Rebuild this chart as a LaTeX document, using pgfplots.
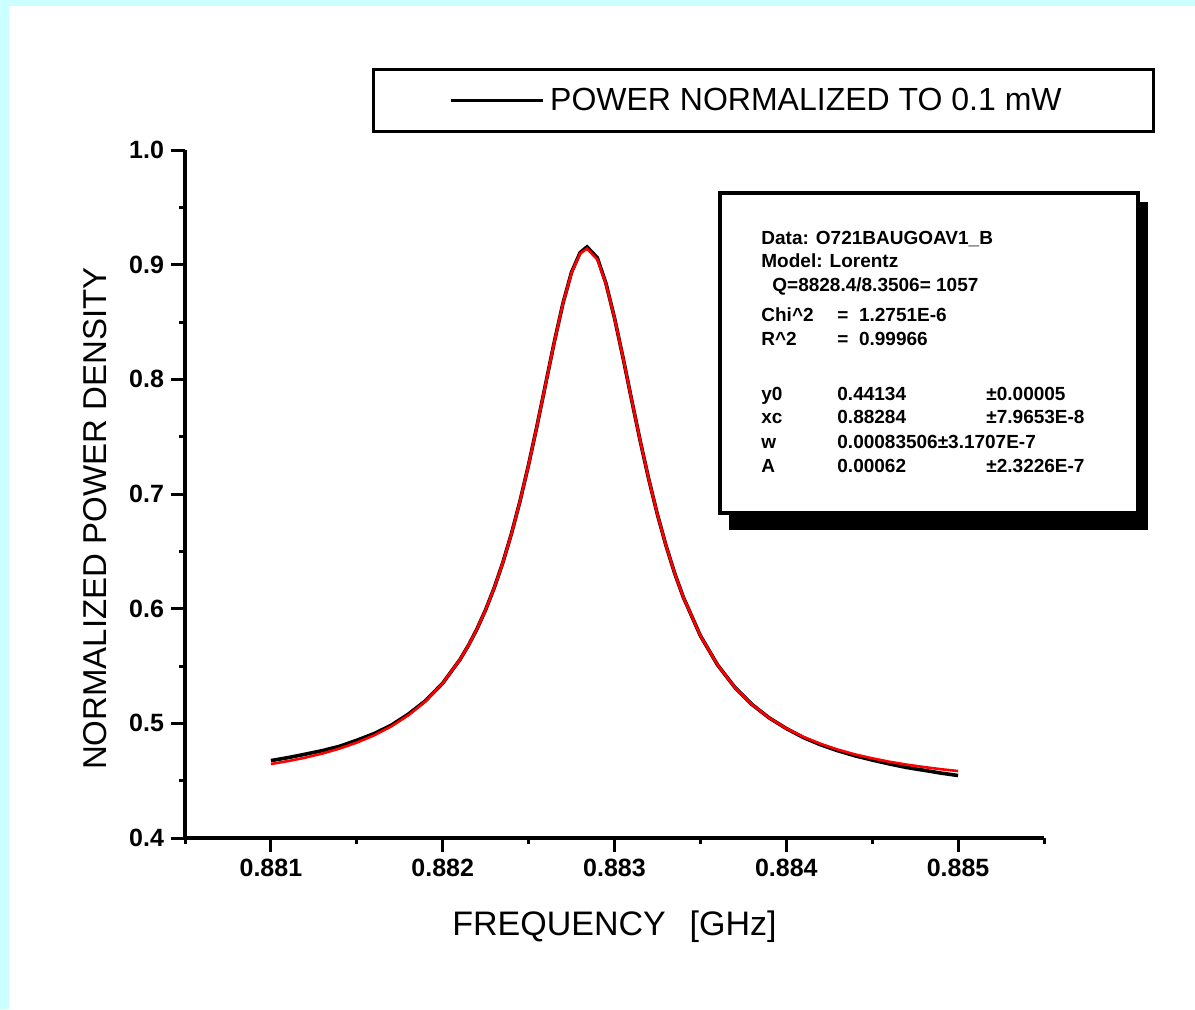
\documentclass[border=0pt]{standalone}
\usepackage{fontspec}
\setmainfont{Liberation Sans}
\usepackage{pgfplots}
\pgfplotsset{compat=1.18}
\definecolor{framecyan}{RGB}{204,255,255}

\pgfplotstableread{
x y
0.8810 0.4675
0.8811 0.4701
0.8812 0.4731
0.8813 0.4762
0.8814 0.4800
0.8815 0.4852
0.8816 0.4910
0.8817 0.4983
0.8818 0.5080
0.8819 0.5197
0.8820 0.5350
0.8821 0.5555
0.88215 0.5680
0.8822 0.5825
0.88225 0.5991
0.8823 0.6182
0.88235 0.6402
0.8824 0.6653
0.88245 0.6938
0.8825 0.7256
0.88255 0.7602
0.8826 0.7966
0.88265 0.8329
0.8827 0.8663
0.88275 0.8935
0.8828 0.9105
0.88284 0.9155
0.8829 0.9060
0.88295 0.8838
0.8830 0.8535
0.88305 0.8186
0.8831 0.7819
0.88315 0.7460
0.8832 0.7125
0.88325 0.6820
0.8833 0.6549
0.88335 0.6310
0.8834 0.6102
0.8835 0.5764
0.8836 0.5509
0.8837 0.5315
0.8838 0.5165
0.8839 0.5048
0.8840 0.4955
0.8841 0.4876
0.8842 0.4813
0.8843 0.4761
0.8844 0.4717
0.8845 0.4680
0.8846 0.4646
0.8847 0.4615
0.8848 0.4591
0.8849 0.4566
0.8850 0.4545
}\measured

\pgfplotstableread{
x y
0.8810 0.4645
0.8811 0.4671
0.8812 0.4701
0.8813 0.4737
0.8814 0.4780
0.8815 0.4832
0.8816 0.4895
0.8817 0.4973
0.8818 0.5070
0.8819 0.5192
0.8820 0.5350
0.8821 0.5555
0.88215 0.5680
0.8822 0.5825
0.88225 0.5991
0.8823 0.6182
0.88235 0.6402
0.8824 0.6653
0.88245 0.6938
0.8825 0.7256
0.88255 0.7602
0.8826 0.7966
0.88265 0.8329
0.8827 0.8663
0.88275 0.8930
0.8828 0.9097
0.88284 0.9140
0.8829 0.9045
0.88295 0.8833
0.8830 0.8535
0.88305 0.8186
0.8831 0.7819
0.88315 0.7461
0.8832 0.7125
0.88325 0.6820
0.8833 0.6549
0.88335 0.6310
0.8834 0.6102
0.8835 0.5764
0.8836 0.5509
0.8837 0.5315
0.8838 0.5165
0.8839 0.5048
0.8840 0.4956
0.8841 0.4881
0.8842 0.4821
0.8843 0.4771
0.8844 0.4729
0.8845 0.4695
0.8846 0.4665
0.8847 0.4640
0.8848 0.4619
0.8849 0.4600
0.8850 0.4584
}\lorentzfit

\begin{document}
\begin{tikzpicture}
\useasboundingbox (0,0) rectangle (597.5pt,504.5pt);
\fill[framecyan] (0,0) rectangle (597.5pt,504.5pt);
\fill[white] (4.5pt,0) rectangle (597.5pt,501.5pt);

\begin{axis}[
  at={(92.5pt,85.5pt)}, anchor=south west,
  scale only axis, width=429.5pt, height=344pt,
  xmin=0.8805, xmax=0.8855, ymin=0.4, ymax=1.0,
  axis lines*=left,
  axis line style={line width=1.6pt},
  tick align=outside,
  tick style={line width=1.5pt, black},
  major tick length=7pt, minor tick length=3pt,
  xtick={0.881,0.882,0.883,0.884,0.885},
  xticklabels={0.881,0.882,0.883,0.884,0.885},
  minor xtick={0.8805,0.8815,0.8825,0.8835,0.8845,0.8855},
  ytick={0.4,0.5,0.6,0.7,0.8,0.9,1.0},
  yticklabels={0.4,0.5,0.6,0.7,0.8,0.9,1.0},
  minor ytick={0.45,0.55,0.65,0.75,0.85,0.95},
  scaled ticks=false,
  ticklabel style={font=\fontsize{12.5}{14}\selectfont\bfseries},
  xlabel={FREQUENCY\hspace{12pt}[GHz]},
  xlabel style={at={(axis description cs:0.5,-0.129)}, anchor=center,
    font=\fontsize{17}{20}\selectfont},
  ylabel={NORMALIZED POWER DENSITY},
  ylabel style={at={(axis description cs:-0.105,0.464)}, anchor=center,
    font=\fontsize{16.5}{20}\selectfont},
  clip=false,
  legend style={at={(axis description cs:0.2177,1.1192)}, anchor=north west,
    draw=black, line width=1.6pt, inner sep=0pt,
    nodes={inner sep=0pt, font=\fontsize{16}{19}\selectfont}},
  legend image code/.code={
    \path (0pt,-14.5pt) (0pt,14.5pt);
    \draw[#1] (38pt,0pt) -- (84pt,0pt);
  },
]
\addplot[black, line width=1.8pt] table[x=x, y=y] {\measured};
\addlegendentry{\hspace*{2.5pt}POWER NORMALIZED TO 0.1 mW\hspace*{46pt}}
\addplot[red, line width=1.3pt, forget plot] table[x=x, y=y] {\lorentzfit};
\end{axis}

\begin{scope}[x=0.5pt, y=-0.5pt, shift={(0pt,504.5pt)}]
  \fill[black] (729,202) rectangle (1148,530);
  \filldraw[fill=white, draw=black, line width=1.6pt] (720,193) rectangle (1138,513);
  \begin{scope}[every node/.style={anchor=base west, inner sep=0pt,
      font=\fontsize{9.5}{11}\selectfont\bfseries}]
    \node at (761,245) {Data: O721BAUGOAV1\_B};
    \node at (761,268) {Model: Lorentz};
    \node at (772,292) {Q=8828.4/8.3506= 1057};
    \node at (761,322) {Chi\^{}2};
    \node at (837,322) {=\ \ 1.2751E-6};
    \node at (761,346) {R\^{}2};
    \node at (837,346) {=\ \ 0.99966};
    \node at (761,400) {y0};
    \node at (837,400) {0.44134};
    \node at (986,400) {±0.00005};
    \node at (761,423) {xc};
    \node at (837,423) {0.88284};
    \node at (986,423) {±7.9653E-8};
    \node at (761,448) {w};
    \node at (837,448) {0.00083506±3.1707E-7};
    \node at (761,472) {A};
    \node at (837,472) {0.00062};
    \node at (986,472) {±2.3226E-7};
  \end{scope}
\end{scope}
\end{tikzpicture}
\end{document}
